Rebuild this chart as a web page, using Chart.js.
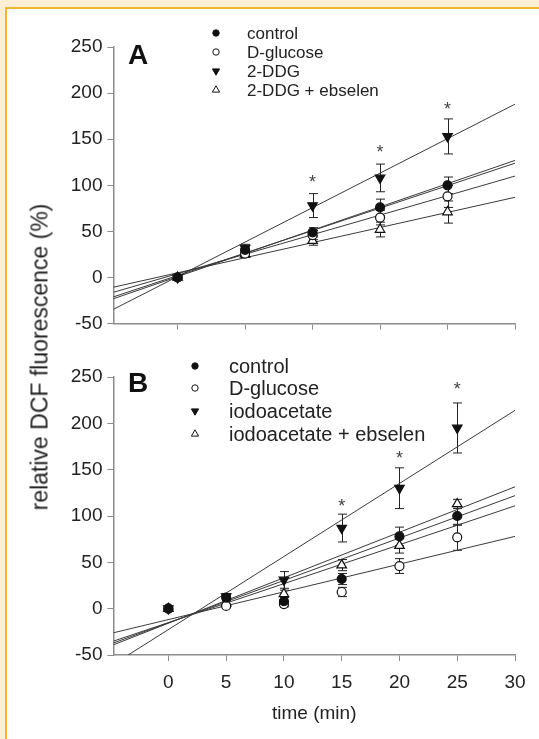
<!DOCTYPE html>
<html>
<head>
<meta charset="utf-8">
<script src="https://cdn.jsdelivr.net/npm/chart.js@4.4.0/dist/chart.umd.min.js"></script>
<style>
  html, body { margin: 0; padding: 0; width: 539px; height: 739px; overflow: hidden; background: #fcefd6; }
  .frame { position: absolute; left: 5px; top: 7px; width: 560px; height: 760px; border: 2.5px solid #f3b52d; background: #fff; }
  canvas { position: absolute; left: 0; }
  #chartA { top: 0; }
  #chartB { top: 340px; }
  .ytitle { position: absolute; left: 40px; top: 357px; transform: translate(-50%, -50%) rotate(-90deg);
            font: 23px "Liberation Sans", Arial, sans-serif; color: #222; white-space: nowrap; }
</style>
</head>
<body>
<div class="frame"></div>
<canvas id="chartA" width="539" height="340"></canvas>
<canvas id="chartB" width="539" height="399"></canvas>
<div class="ytitle">relative DCF fluorescence (%)</div>
<script>
// ===== Panel A data =====
const timeA = [0, 5, 10, 15, 20];
const controlA = [0, 30, 49, 76, 100];
const controlAErr = [0, 3, 5, 9, 9];
const glucoseA = [0, 26, 46, 65, 88];
const glucoseAErr = [0, 3, 5, 8, 12];
const ddgA = [0, 32, 78, 108, 153];
const ddgAErr = [0, 4, 13, 15, 19];
const ddgEbsA = [0, 25, 40, 52, 71];
const ddgEbsAErr = [0, 3, 5, 8, 12];
const starA = [null, null, 107, 139, 186];
const labelsA = ['control', 'D-glucose', '2-DDG', '2-DDG + ebselen'];
const xTicksA = [0, 5, 10, 15, 20, 25];
const fitXA = [-4.75, 25];
const fitStartA = [-34.5, -23, -21, -16, -10.5];
const fitEndA = [188, 127, 124, 110, 87];

// ===== Panel B data =====
const timeB = [0, 5, 10, 15, 20, 25];
const controlB = [0, 12, 8, 32, 78, 100];
const controlBErr = [0, 3, 4, 6, 10, 10];
const glucoseB = [0, 3, 5, 18, 46, 77];
const glucoseBErr = [0, 2, 3, 5, 8, 14];
const iodoB = [0, 13, 31, 87, 130, 195];
const iodoBErr = [0, 3, 9, 15, 22, 27];
const iodoEbsB = [0, 6, 16, 47, 68, 113];
const iodoEbsBErr = [0, 2, 4, 6, 8, 5];
const starB = [null, null, null, 114, 166, 240];
const labelsB = ['control', 'D-glucose', 'iodoacetate', 'iodoacetate + ebselen'];
const xTicksB = [0, 5, 10, 15, 20, 25, 30];
const fitXB = [-4.75, 30];
const fitStartB = [-60, -39, -37, -35, -26];
const fitEndB = [214, 131.5, 122, 111, 78];

const yTicks = [-50, 0, 50, 100, 150, 200, 250];

const FONT = '"Liberation Sans", Arial, sans-serif';
const markers = [
  { pointStyle: 'circle', rotation: 0, fill: '#111', radius: 4.5 },
  { pointStyle: 'circle', rotation: 0, fill: '#fff', radius: 4.5 },
  { pointStyle: 'triangle', rotation: 180, fill: '#111', radius: 5.5 },
  { pointStyle: 'triangle', rotation: 0, fill: '#fff', radius: 5.5 },
];

const extras = {
  id: 'extras',
  beforeDatasetsDraw(chart) {
    const { ctx, scales: { x, y } } = chart;
    ctx.save();
    ctx.strokeStyle = '#222';
    ctx.lineWidth = 1;
    chart.data.datasets.forEach(ds => {
      if (!ds.errors) return;
      ds.data.forEach((p, i) => {
        const e = ds.errors[i];
        if (!e) return;
        const px = Math.round(x.getPixelForValue(p.x)) + 0.5;
        const top = y.getPixelForValue(p.y + e);
        const bot = y.getPixelForValue(p.y - e);
        ctx.beginPath();
        ctx.moveTo(px, top); ctx.lineTo(px, bot);
        ctx.moveTo(px - 4.5, top); ctx.lineTo(px + 4.5, top);
        ctx.moveTo(px - 4.5, bot); ctx.lineTo(px + 4.5, bot);
        ctx.stroke();
      });
    });
    ctx.restore();
  },
  afterDraw(chart, args, opts) {
    const { ctx, scales: { x, y } } = chart;
    ctx.save();
    // significance asterisks
    ctx.fillStyle = '#444';
    ctx.font = '18px ' + FONT;
    ctx.textAlign = 'center';
    ctx.textBaseline = 'middle';
    opts.stars.forEach((v, i) => {
      if (v == null) return;
      ctx.fillText('*', x.getPixelForValue(opts.times[i]), y.getPixelForValue(v) + 4);
    });
    // panel letter
    ctx.fillStyle = '#111';
    ctx.font = 'bold 28px ' + FONT;
    ctx.textAlign = 'left';
    ctx.fillText(opts.letter, 128, opts.letterY);
    // legend
    ctx.font = opts.legendFont + 'px ' + FONT;
    ctx.fillStyle = '#222';
    opts.labels.forEach((txt, i) => {
      const m = markers[i];
      const yy = opts.rows[i];
      ctx.save();
      ctx.fillStyle = m.fill;
      ctx.strokeStyle = '#111';
      Chart.helpers.drawPoint(ctx, { pointStyle: m.pointStyle, rotation: m.rotation, radius: m.radius - 1.3, borderWidth: 1 }, opts.markerX, yy);
      ctx.restore();
      ctx.fillText(txt, opts.textX, yy + 1);
    });
    ctx.restore();
  }
};

function seriesSet(times, vals, errs, i) {
  const m = markers[i];
  return {
    data: times.map((t, k) => ({ x: t, y: vals[k] })),
    errors: errs,
    pointStyle: m.pointStyle,
    rotation: m.rotation,
    pointRadius: m.radius,
    backgroundColor: m.fill,
    borderColor: '#111',
    borderWidth: 1.2,
    showLine: false,
  };
}

function fitSet(xs, a, b) {
  return {
    data: [{ x: xs[0], y: a }, { x: xs[1], y: b }],
    showLine: true,
    pointRadius: 0,
    borderColor: '#3a3a3a',
    borderWidth: 1,
    fill: false,
  };
}

function makePanel(id, cfg) {
  const axisColor = '#8c8c8c';
  new Chart(document.getElementById(id), {
    type: 'scatter',
    data: {
      datasets: [
        seriesSet(cfg.times, cfg.series[0], cfg.errs[0], 0),
        seriesSet(cfg.times, cfg.series[1], cfg.errs[1], 1),
        seriesSet(cfg.times, cfg.series[2], cfg.errs[2], 2),
        seriesSet(cfg.times, cfg.series[3], cfg.errs[3], 3),
        ...cfg.fitStart.map((a, i) => fitSet(cfg.fitX, a, cfg.fitEnd[i])),
      ]
    },
    options: {
      responsive: false,
      animation: false,
      layout: { padding: { left: 63.5, right: 24, top: cfg.padTop, bottom: 0 } },
      plugins: {
        legend: { display: false },
        tooltip: { enabled: false },
        extras: cfg.extras,
      },
      scales: {
        x: {
          type: 'linear',
          min: cfg.fitX[0],
          max: cfg.fitX[1],
          afterBuildTicks: s => { s.ticks = cfg.xTicks.map(v => ({ value: v })); },
          afterFit: s => { s.height = cfg.xHeight; },
          grid: { drawOnChartArea: false, drawTicks: true, tickLength: 6, color: axisColor },
          border: { display: true, color: axisColor, width: 1.5 },
          ticks: { display: cfg.showXLabels, padding: 10, color: '#222', font: { family: FONT, size: 19 } },
          title: {
            display: cfg.showXLabels,
            text: 'time (min)',
            color: '#222',
            font: { family: FONT, size: 19 },
            padding: { top: 0, bottom: 14 },
          },
        },
        y: {
          min: -50,
          max: 250,
          afterBuildTicks: s => { s.ticks = yTicks.map(v => ({ value: v })); },
          afterFit: s => { s.width = 50; },
          grid: { drawOnChartArea: false, drawTicks: true, tickLength: 6, color: axisColor },
          border: { display: true, color: axisColor, width: 1.5 },
          ticks: { padding: 5, color: '#222', font: { family: FONT, size: 19 } },
        },
      },
    },
    plugins: [extras],
  });
}

makePanel('chartA', {
  times: timeA,
  series: [controlA, glucoseA, ddgA, ddgEbsA],
  errs: [controlAErr, glucoseAErr, ddgAErr, ddgEbsAErr],
  fitX: fitXA, fitStart: fitStartA, fitEnd: fitEndA,
  xTicks: xTicksA,
  padTop: 47, xHeight: 13, showXLabels: false,
  extras: {
    stars: starA, times: timeA, letter: 'A', letterY: 56,
    labels: labelsA, markerX: 216, textX: 247, rows: [33, 52, 71, 90], legendFont: 17,
  },
});

makePanel('chartB', {
  times: timeB,
  series: [controlB, glucoseB, iodoB, iodoEbsB],
  errs: [controlBErr, glucoseBErr, iodoBErr, iodoEbsBErr],
  fitX: fitXB, fitStart: fitStartB, fitEnd: fitEndB,
  xTicks: xTicksB,
  padTop: 37, xHeight: 84, showXLabels: true,
  extras: {
    stars: starB, times: timeB, letter: 'B', letterY: 44,
    labels: labelsB, markerX: 195, textX: 229, rows: [26, 48, 71, 94], legendFont: 20,
  },
});
</script>
</body>
</html>
